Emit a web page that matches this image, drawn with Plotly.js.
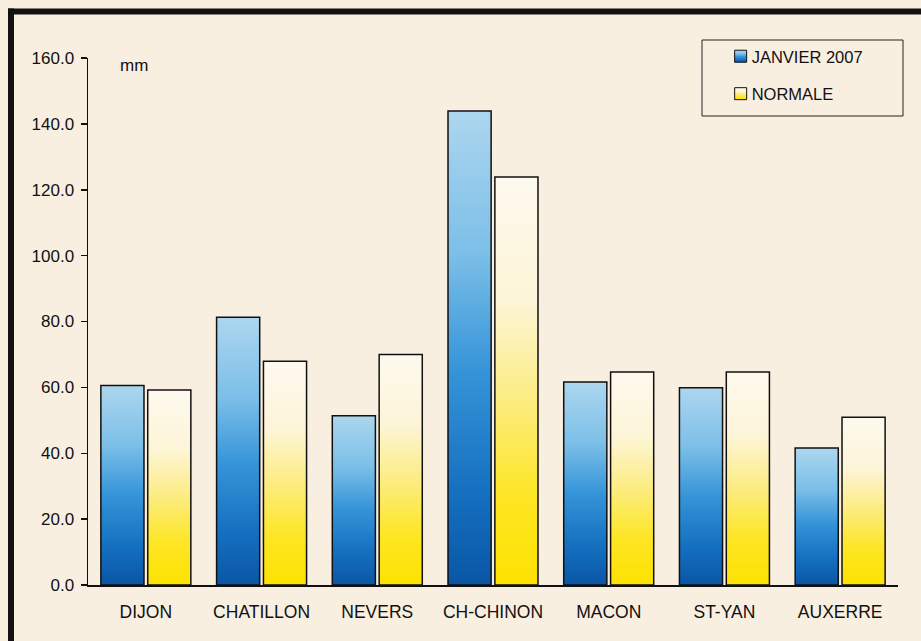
<!DOCTYPE html>
<html>
<head>
<meta charset="utf-8">
<script src="https://cdn.plot.ly/plotly-3.0.1.min.js"></script>
<style>
  html, body { margin: 0; padding: 0; background: #f9f1e4; }
  #chart { width: 921px; height: 641px; }
</style>
</head>
<body>
<div id="chart"></div>
<script>
// ---- data ----
const stations = ["DIJON", "CHATILLON", "NEVERS", "CH-CHINON", "MACON", "ST-YAN", "AUXERRE"];
const janvier2007 = [60.6, 81.3, 51.4, 143.9, 61.6, 59.9, 41.6];
const normale = [59.2, 67.9, 70.0, 123.9, 64.7, 64.7, 50.9];
const seriesNames = ["JANVIER 2007", "NORMALE"];
const yTicks = [0, 20, 40, 60, 80, 100, 120, 140, 160];
const unitLabel = "mm";

const FONT = "Liberation Sans, Arial, Helvetica, sans-serif";
const BG = "#f9efe1";

const traces = [
  {
    type: "bar", name: seriesNames[0], x: stations, y: janvier2007,
    legendgroup: "a",
    marker: { color: "#2b8ad4", line: { color: "#111", width: 1.5 } }
  },
  {
    type: "bar", name: seriesNames[1], x: stations, y: normale,
    legendgroup: "b",
    marker: { color: "#fde400", line: { color: "#111", width: 1.5 } }
  }
];

const layout = {
  width: 921, height: 641,
  margin: { l: 88, r: 23, t: 58, b: 56 },
  paper_bgcolor: BG, plot_bgcolor: BG,
  font: { family: FONT, size: 17, color: "#111" },
  barmode: "group", bargap: 0.19, bargroupgap: 0.08,
  showlegend: true,
  legend: {
    x: (740 - 88) / 810 - 0.035, y: (585 - 39) / 527, xanchor: "left", yanchor: "top",
    bgcolor: "rgba(0,0,0,0)", borderwidth: 0,
    traceorder: "grouped", tracegroupgap: 13,
    font: { family: FONT, size: 16.5, color: "#111" },
    itemwidth: 30
  },
  xaxis: {
    type: "category", range: [-0.5, 6.5],
    showline: true, linecolor: "#111", linewidth: 1.5,
    ticks: "", showgrid: false, zeroline: false,
    ticklabelstandoff: 10,
    tickfont: { family: FONT, size: 17.5, color: "#111" }
  },
  yaxis: {
    range: [0, 160], tickvals: yTicks, tickformat: ".1f",
    showline: true, linecolor: "#111", linewidth: 1.5,
    ticks: "outside", ticklen: 6, tickwidth: 1.5, tickcolor: "#111",
    showgrid: false, zeroline: false,
    ticklabelstandoff: 3,
    tickfont: { family: FONT, size: 17, color: "#111" }
  },
  shapes: [
    // legend frame
    { type: "rect", xref: "paper", yref: "paper",
      x0: (702 - 88) / 810, x1: (903 - 88) / 810,
      y0: (585 - 116) / 527, y1: (585 - 40) / 527,
      line: { color: "#222", width: 1 } },
    // outer heavy frame (left and top)
    { type: "line", xref: "paper", yref: "paper",
      x0: (11 - 88) / 810, x1: (11 - 88) / 810,
      y0: (585 - 645) / 527, y1: (585 - 8.5) / 527,
      line: { color: "#111", width: 6 } },
    { type: "line", xref: "paper", yref: "paper",
      x0: (8 - 88) / 810, x1: (925 - 88) / 810,
      y0: (585 - 11.5) / 527, y1: (585 - 11.5) / 527,
      line: { color: "#111", width: 6 } }
  ],
  annotations: [
    { text: unitLabel, xref: "paper", yref: "paper",
      x: (118 - 88) / 810, y: (585 - 65) / 527, xanchor: "left", yanchor: "middle",
      showarrow: false, font: { family: FONT, size: 17, color: "#111" } }
  ]
};

Plotly.newPlot("chart", traces, layout, { staticPlot: true, displayModeBar: false }).then(function (gd) {
  const svg = gd.querySelector(".main-svg");
  const NS = "http://www.w3.org/2000/svg";
  let defs = svg.querySelector("defs");
  if (!defs) { defs = document.createElementNS(NS, "defs"); svg.insertBefore(defs, svg.firstChild); }
  function grad(id, stops) {
    const g = document.createElementNS(NS, "linearGradient");
    g.setAttribute("id", id);
    g.setAttribute("x1", "0"); g.setAttribute("y1", "0");
    g.setAttribute("x2", "0"); g.setAttribute("y2", "1");
    stops.forEach(function (s) {
      const st = document.createElementNS(NS, "stop");
      st.setAttribute("offset", s[0]);
      st.setAttribute("stop-color", s[1]);
      g.appendChild(st);
    });
    defs.appendChild(g);
  }
  grad("gBlue", [["0", "#acd6ef"], ["0.3", "#7cbfe8"], ["0.55", "#3594d8"], ["0.8", "#1670c0"], ["1", "#0a56a6"]]);
  grad("gYellow", [["0", "#fdf9ee"], ["0.3", "#fdf5d8"], ["0.55", "#fcec80"], ["0.78", "#fde625"], ["1", "#fde200"]]);
  const ids = ["gBlue", "gYellow"];
  gd.querySelectorAll(".barlayer .trace").forEach(function (t, i) {
    t.querySelectorAll("path").forEach(function (p) { p.style.fill = "url(#" + ids[i] + ")"; });
  });
  gd.querySelectorAll(".legend .traces").forEach(function (t, i) {
    const lp = t.querySelector(".legendpoints");
    if (lp) lp.setAttribute("transform", "translate(9,0)");
    t.querySelectorAll(".legendpoints path").forEach(function (p) {
      p.style.fill = "url(#" + ids[i] + ")";
      p.style.stroke = "#111"; p.style.strokeWidth = "1px";
    });
  });
});
</script>
</body>
</html>
